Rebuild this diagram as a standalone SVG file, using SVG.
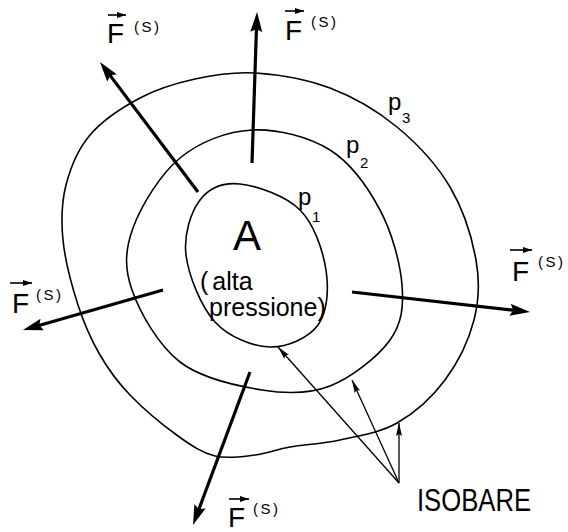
<svg xmlns="http://www.w3.org/2000/svg" width="568" height="532" viewBox="0 0 568 532">
<style>
.iso{fill:none;stroke:#000;stroke-width:1.6;stroke-linejoin:round}
.big{fill:none;stroke:#000;stroke-width:3.2;stroke-linecap:butt}
.thin{fill:none;stroke:#000;stroke-width:1.3}
.vec{fill:none;stroke:#000;stroke-width:1.6}
text{font-family:"Liberation Sans",Arial,sans-serif;fill:#000}
.F{font-size:28px}
.S{font-size:15px;letter-spacing:2.5px}
.p{font-size:24px}
.sub{font-size:15px}
</style>
<defs>
<marker id="hb" viewBox="0 0 20 12" refX="8" refY="6" markerWidth="20" markerHeight="12" markerUnits="userSpaceOnUse" orient="auto">
<path d="M0,0 L20,6 L0,12 L3,6 z" fill="#000"/>
</marker>
<marker id="ht" viewBox="0 0 13 6" refX="13" refY="3" markerWidth="13" markerHeight="6" markerUnits="userSpaceOnUse" orient="auto">
<path d="M0,0 L13,3 L0,6 L2,3 z" fill="#000"/>
</marker>
<marker id="hv" viewBox="0 0 9 6" refX="9" refY="3" markerWidth="9" markerHeight="6" markerUnits="userSpaceOnUse" orient="auto">
<path d="M0,0 L9,3 L0,6 z" fill="#000"/>
</marker>
</defs>
<rect width="568" height="532" fill="#fff"/>

<g id="isobar-p3">
<path class="iso" d="M255,73 C277.5,74.5 306.3,79 330,88 S377,110.5 397,127 S436.8,164.8 450,187 S472,237.8 476,260 S479.2,300 474,320 S457.8,362.8 445,380 S414.5,413 397,423 S357.8,436 340,440 S304.2,444.5 290,447 S267.5,453.5 255,455 S227.8,459.2 215,456 S192.2,446.2 178,436 S143,408.5 130,395 S108.7,370 100,355 S84.2,324.2 78,305 S65,260 63,240 S61.5,202.5 66,185 S77.7,149.5 90,135 S122.5,107.3 140,98 S175.8,83.2 195,79 S232.5,71.5 255,73 Z"/>
<text class="p" x="388" y="110">p</text><text class="sub" x="402" y="123">3</text>
</g>
<g id="isobar-p2">
<path class="iso" d="M252,130 C277,128.7 308.7,136.7 330,150 S368,187.5 380,210 S400.3,263.3 402,285 S402,323.2 390,340 S351.3,377.7 330,386 S287,394 262,390 S201.7,378.7 180,362 S139.8,312.3 132,290 S125,250 133,228 S160.2,174.3 180,158 S227,131.3 252,130 Z"/>
<text class="p" x="346" y="153">p</text><text class="sub" x="360" y="168">2</text>
</g>
<g id="isobar-p1">
<path class="iso" d="M240,184 C256.7,185.7 285.7,195.7 300,210 S323,250.8 326,270 S327.3,312.2 318,325 S287.2,347.5 270,347 S229,337.3 215,322 S188.5,275.3 186,255 S191,211.8 200,200 S223.3,182.3 240,184 Z"/>
<text class="p" x="298" y="205">p</text><text class="sub" x="312" y="222">1</text>
</g>
<g id="center">
<text x="233" y="250" font-size="42">A</text>
<text x="200" y="290" font-size="25">(<tspan dx="4">alta</tspan></text>
<text x="209" y="316" font-size="25">pressione)</text>
</g>

<g id="connectors">
<line class="big" x1="198" y1="192" x2="107.2" y2="71.6" marker-end="url(#hb)"/>
<line class="big" x1="252" y1="163" x2="256.6" y2="24" marker-end="url(#hb)"/>
<line class="big" x1="163" y1="290" x2="34.5" y2="326.7" marker-end="url(#hb)"/>
<line class="big" x1="352" y1="292" x2="518.1" y2="310.7" marker-end="url(#hb)"/>
<line class="big" x1="250" y1="372" x2="197.2" y2="513.8" marker-end="url(#hb)"/>
<line class="thin" x1="399" y1="483" x2="278" y2="347" marker-end="url(#ht)"/>
<line class="thin" x1="399" y1="483" x2="352" y2="380" marker-end="url(#ht)"/>
<line class="thin" x1="399" y1="483" x2="399" y2="423" marker-end="url(#ht)"/>
</g>

<g id="label-F-topleft">
<line class="vec" x1="108" y1="15" x2="126" y2="15" marker-end="url(#hv)"/>
<text class="F" x="107" y="43">F</text><text class="S" x="134" y="32">(S)</text>
</g>
<g id="label-F-top">
<line class="vec" x1="285" y1="11" x2="304" y2="11" marker-end="url(#hv)"/>
<text class="F" x="285" y="40">F</text><text class="S" x="311" y="27">(S)</text>
</g>
<g id="label-F-left">
<line class="vec" x1="10" y1="283" x2="32" y2="283" marker-end="url(#hv)"/>
<text class="F" x="12" y="313">F</text><text class="S" x="36" y="300">(S)</text>
</g>
<g id="label-F-right">
<line class="vec" x1="510" y1="250" x2="532" y2="250" marker-end="url(#hv)"/>
<text class="F" x="512" y="281">F</text><text class="S" x="538" y="267">(S)</text>
</g>
<g id="label-F-bottom">
<line class="vec" x1="229" y1="499" x2="249" y2="499" marker-end="url(#hv)"/>
<text class="F" x="228" y="527">F</text><text class="S" x="253" y="514">(S)</text>
</g>
<g id="label-isobare">
<text x="417" y="511" font-size="32" textLength="114" lengthAdjust="spacingAndGlyphs">ISOBARE</text>
</g>
</svg>
